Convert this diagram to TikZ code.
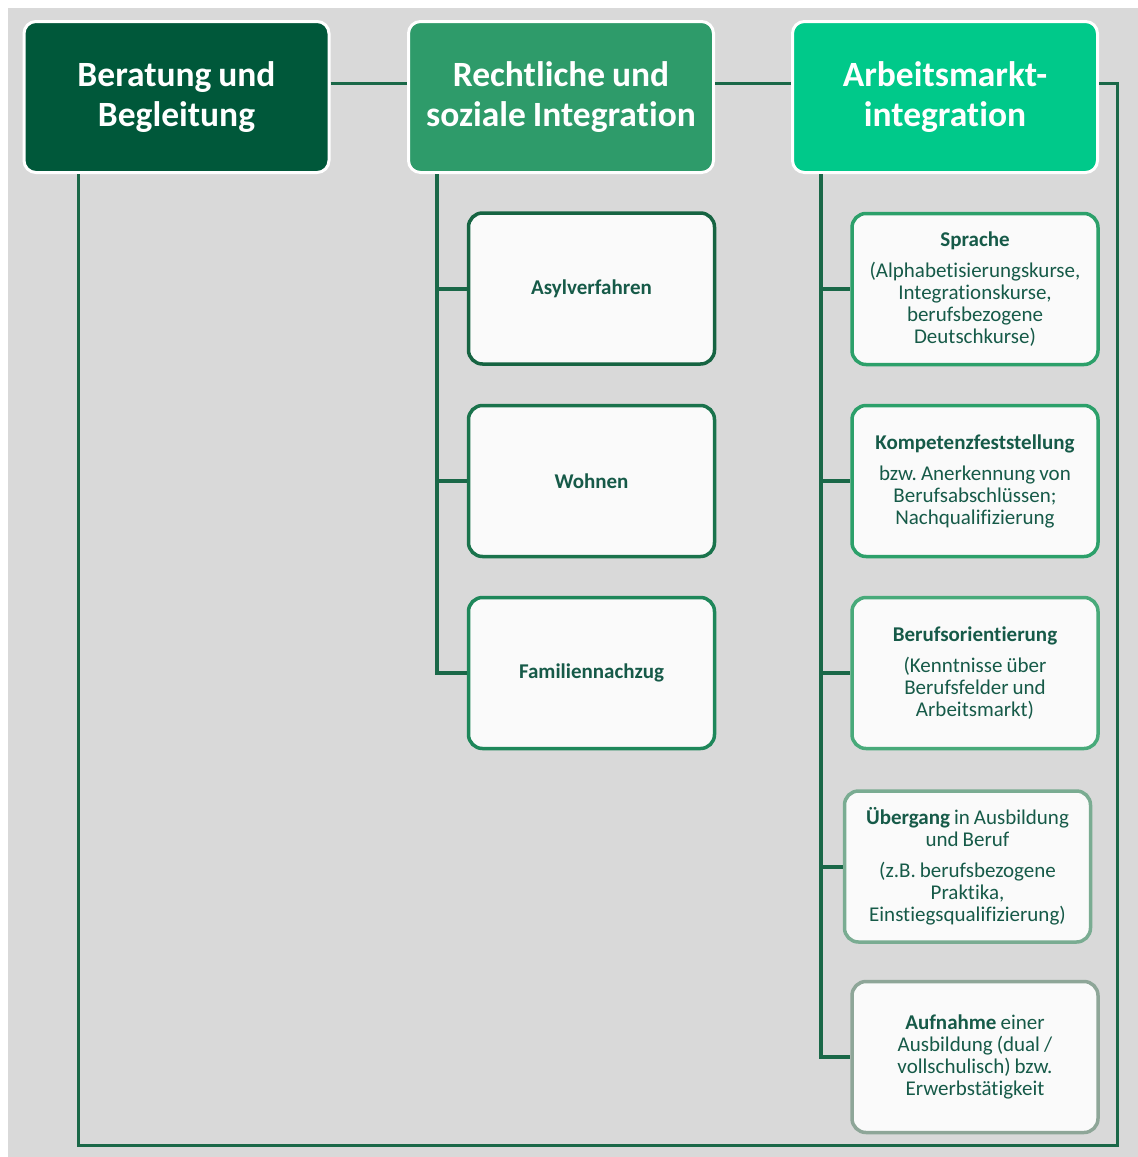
\documentclass[tikz,border=0pt]{standalone}
\usepackage{fontspec}
\setmainfont{Carlito}[Ligatures=NoCommon, WordSpace=0.85]
\usetikzlibrary{calc}
\definecolor{bg}{RGB}{217,217,217}
\definecolor{dk}{RGB}{0,88,58}
\definecolor{md}{RGB}{46,155,106}
\definecolor{lt}{RGB}{0,201,138}
\definecolor{ln}{RGB}{26,104,72}
\definecolor{tx}{RGB}{22,90,72}
\definecolor{boxfill}{RGB}{250,250,250}
\definecolor{ba}{RGB}{22,100,66}
\definecolor{bw}{RGB}{26,115,76}
\definecolor{bf}{RGB}{30,135,90}
\definecolor{bs}{RGB}{44,160,106}
\definecolor{bb}{RGB}{72,170,122}
\definecolor{bu}{RGB}{122,172,146}
\definecolor{bn}{RGB}{142,166,152}
\tikzset{
  topbox/.style={draw=white, line width=3pt, rounded corners=12pt,
    minimum width=305pt, minimum height=151pt, inner sep=0pt,
    text=white, align=flush center, font=\fontsize{35.5}{40}\selectfont\bfseries},
  subbox/.style={line width=3.5pt, rounded corners=14pt, fill=boxfill,
    minimum width=246pt, minimum height=151pt, inner sep=0pt,
    text width=236pt, align=flush center, text=tx,
    font=\fontsize{21}{22}\selectfont\frenchspacing},
  conn/.style={draw=ln, line width=3pt},
  treeline/.style={draw=ln, line width=4pt},
}
\begin{document}
\begin{tikzpicture}[x=1pt,y=-1pt]
\useasboundingbox (0,0) rectangle (1138,1157);
\fill[white] (0,0) rectangle (1138,1157);
\fill[bg] (8,8) rectangle (1138,1157);

\node[topbox, fill=dk] (b1) at (176.5,97) {Beratung und\\Begleitung};
\node[topbox, fill=md] (b2) at (561,97) {Rechtliche und\\soziale Integration};
\node[topbox, fill=lt] (b3) at (945,97) {Arbeitsmarkt-\\integration};

\node[subbox, draw=ba] (asyl) at (591.5,288.5) {\textbf{Asylverfahren}};
\node[subbox, draw=bw] (wohn) at (591.5,481) {\textbf{Wohnen}};
\node[subbox, draw=bf] (fam) at (591.5,673) {\textbf{Familiennachzug}};

\node[subbox, draw=bs] (spr) at (975,289) {\textbf{Sprache}\\[9pt](Alphabetisierungskurse,\\Integrationskurse,\\berufsbezogene\\Deutschkurse)};
\node[subbox, draw=bs] (komp) at (975,481) {\textbf{Kompetenzfeststellung}\\[9pt]bzw. Anerkennung von\\Berufsabschlüssen;\\Nachqualifizierung};
\node[subbox, draw=bb] (beruf) at (975,673) {\textbf{Berufsorientierung}\\[9pt](Kenntnisse über\\Berufsfelder und\\Arbeitsmarkt)};
\node[subbox, draw=bu] (ueb) at (967.5,866.5) {\textbf{Übergang} in Ausbildung\\und Beruf\\[9pt](z.B. berufsbezogene\\Praktika,\\Einstiegsqualifizierung)};
\node[subbox, draw=bn] (auf) at (975,1057) {\textbf{Aufnahme} einer\\Ausbildung (dual /\\vollschulisch) bzw.\\Erwerbstätigkeit};

% top connectors
\draw[conn] ($(b1.east)+(0,-14)$) -- ($(b2.west)+(0,-14)$);
\draw[conn] ($(b2.east)+(0,-14)$) -- ($(b3.west)+(0,-14)$);
\coordinate (corner) at (1117,1145);
\draw[conn] ($(b3.east)+(0,-14)$) -| (corner) -| ($(b1.south west)+(56,0)$);

% middle tree
\coordinate (tm) at ($(b2.south west)+(30,0)$);
\draw[treeline] (tm) |- (fam.west);
\draw[treeline] (tm |- asyl.west) -- (asyl.west);
\draw[treeline] (tm |- wohn.west) -- (wohn.west);

% right tree
\coordinate (tr) at ($(b3.south west)+(30,0)$);
\draw[treeline] (tr) |- (auf.west);
\draw[treeline] (tr |- spr.west) -- (spr.west);
\draw[treeline] (tr |- komp.west) -- (komp.west);
\draw[treeline] (tr |- beruf.west) -- (beruf.west);
\draw[treeline] (tr |- ueb.west) -- (ueb.west);
\end{tikzpicture}
\end{document}
